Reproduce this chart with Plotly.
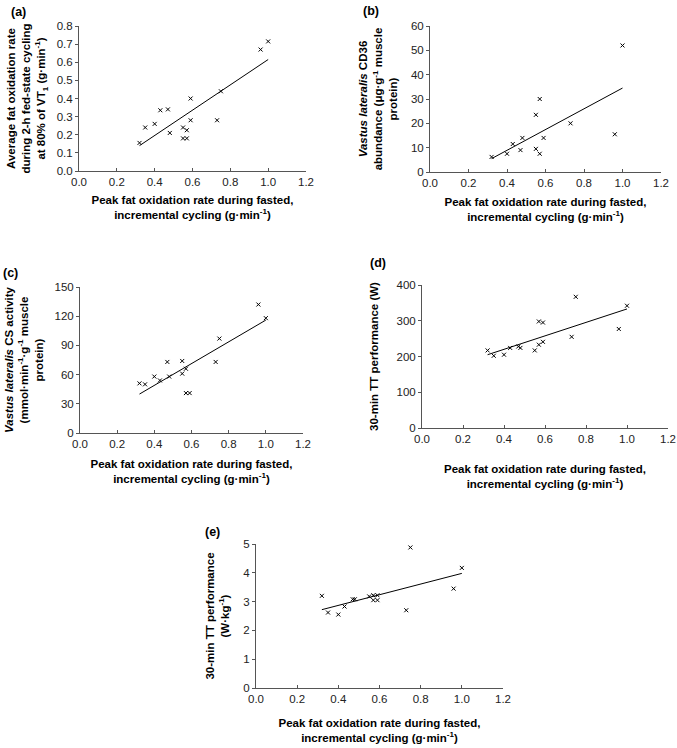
import plotly.graph_objects as go

# shared x values (peak fat oxidation, g/min)
x_a = [0.32, 0.35, 0.40, 0.43, 0.47, 0.48, 0.55, 0.55, 0.57, 0.57, 0.59, 0.59, 0.73, 0.75, 0.96, 1.00]
y_a = [0.155, 0.24, 0.26, 0.335, 0.34, 0.21, 0.18, 0.24, 0.18, 0.225, 0.40, 0.28, 0.28, 0.44, 0.67, 0.715]

x_b = [0.32, 0.40, 0.43, 0.47, 0.48, 0.55, 0.55, 0.57, 0.57, 0.59, 0.73, 0.96, 1.00]
y_b = [6.2, 7.5, 11.5, 9.0, 14.0, 23.5, 9.5, 30.0, 7.5, 14.0, 20.0, 15.5, 52.0]

x_c = [0.32, 0.35, 0.40, 0.43, 0.47, 0.48, 0.55, 0.55, 0.57, 0.57, 0.59, 0.73, 0.75, 0.96, 1.00]
y_c = [51, 50, 58, 54, 73, 58, 61, 74, 66, 41, 41, 73, 97, 132, 118]

x_d = [0.32, 0.35, 0.40, 0.43, 0.47, 0.48, 0.55, 0.57, 0.57, 0.59, 0.59, 0.73, 0.75, 0.96, 1.00]
y_d = [217, 202, 205, 224, 228, 224, 217, 298, 233, 295, 241, 255, 367, 277, 342]

x_e = [0.32, 0.35, 0.40, 0.43, 0.47, 0.48, 0.55, 0.57, 0.57, 0.59, 0.59, 0.73, 0.75, 0.96, 1.00]
y_e = [3.20, 2.62, 2.55, 2.83, 3.08, 3.08, 3.18, 3.05, 3.22, 3.22, 3.05, 2.70, 4.88, 3.45, 4.17]

# trend line endpoints
trend_x = [0.32, 1.00]
trend_a = [0.14, 0.615]
trend_b = [5.5, 34.5]
trend_c = [40, 116]
trend_d = [205, 333]
trend_e = [2.72, 3.98]

x_ticks = [0.0, 0.2, 0.4, 0.6, 0.8, 1.0, 1.2]
x_title = "Peak fat oxidation rate during fasted,<br>incremental cycling (g·min<sup>-1</sup>)"

panels = [
    dict(letter="(a)", x=x_a, y=y_a, t=trend_a, yrange=[0, 0.8], dtick=0.1, fmt=".1f",
         ytitle="Average fat oxidation rate<br>during 2-h fed-state cycling<br>at 80% of VT<sub>1</sub> (g·min<sup>-1</sup>)",
         px=(79, 306, 26, 171), lab=(9, 12), ys=8, xs=9),
    dict(letter="(b)", x=x_b, y=y_b, t=trend_b, yrange=[0, 60], dtick=10, fmt="d",
         ytitle="<i>Vastus lateralis</i> CD36<br>abundance (μg·g<sup>-1</sup> muscle<br>protein)",
         px=(430, 661, 26, 172), lab=(361, 11), ys=10, xs=10),
    dict(letter="(c)", x=x_c, y=y_c, t=trend_c, yrange=[0, 150], dtick=30, fmt="d",
         ytitle="<i>Vastus lateralis</i> CS activity<br>(mmol·min<sup>-1</sup>·g<sup>-1</sup> muscle<br>protein)",
         px=(80, 303, 287, 433), lab=(1, 273), ys=8, xs=11),
    dict(letter="(d)", x=x_d, y=y_d, t=trend_d, yrange=[0, 400], dtick=100, fmt="d",
         ytitle="30-min TT performance (W)",
         px=(422, 668, 285, 428), lab=(368, 263), ys=15, xs=21),
    dict(letter="(e)", x=x_e, y=y_e, t=trend_e, yrange=[0, 5], dtick=1, fmt="d",
         ytitle="30-min TT performance<br>(W·kg<sup>-1</sup>)",
         px=(256, 503, 544, 688), lab=(203, 532), ys=11, xs=15),
]

W, H = 677, 748
fig = go.Figure()
font = "Liberation Sans, Arial, sans-serif"

for i, p in enumerate(panels):
    n = "" if i == 0 else str(i + 1)
    x0, x1, y0, y1 = p["px"]
    fig.add_trace(go.Scatter(x=p["x"], y=p["y"], mode="markers", xaxis="x" + n, yaxis="y" + n,
                             marker=dict(symbol="x-thin", size=4, color="black",
                                         line=dict(color="black", width=1)),
                             showlegend=False))
    fig.add_trace(go.Scatter(x=trend_x, y=p["t"], mode="lines", xaxis="x" + n, yaxis="y" + n,
                             line=dict(color="black", width=1), showlegend=False))
    ax = dict(domain=[x0 / W, x1 / W], range=[0, 1.2], tickvals=x_ticks, tickformat=".1f",
              showgrid=False, zeroline=False, showline=True, linecolor="#555", linewidth=1,
              ticks="inside", ticklen=3, tickcolor="#555", automargin=False,
              tickfont=dict(family=font, size=11.5, color="#222"),
              title=dict(text=x_title, font=dict(family=font, size=11.5, color="black", weight="bold"),
                         standoff=p["xs"]),
              anchor="y" + n)
    ay = dict(domain=[1 - y1 / H, 1 - y0 / H], range=p["yrange"], dtick=p["dtick"], tick0=0,
              tickformat=p["fmt"], showgrid=False, zeroline=False, showline=True,
              linecolor="#555", linewidth=1, ticks="outside", ticklen=3, tickcolor="#555",
              automargin=False,
              tickfont=dict(family=font, size=11.5, color="#222"),
              title=dict(text=p["ytitle"], font=dict(family=font, size=11.5, color="black", weight="bold"),
                         standoff=p["ys"]),
              anchor="x" + n)
    fig.layout["xaxis" + n] = ax
    fig.layout["yaxis" + n] = ay
    fig.add_annotation(text="<b>" + p["letter"] + "</b>", x=p["lab"][0] / W, y=1 - p["lab"][1] / H,
                       xref="paper", yref="paper", xanchor="left", yanchor="middle", showarrow=False,
                       font=dict(family=font, size=12.5, color="black"))

fig.update_layout(width=W, height=H, margin=dict(l=0, r=0, t=0, b=0),
                  paper_bgcolor="white", plot_bgcolor="white")
fig.write_html("out.html", config={"displayModeBar": False},
               post_script="document.body.style.margin='0';")
